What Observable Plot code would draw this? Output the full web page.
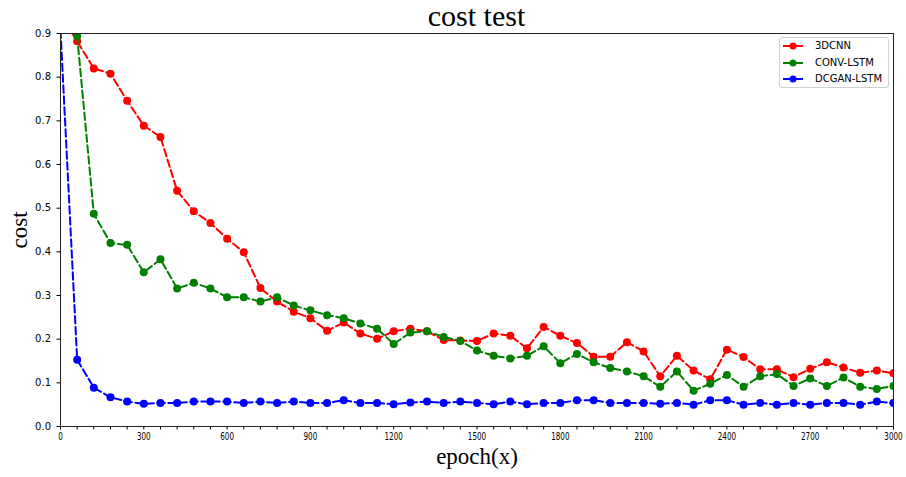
<!DOCTYPE html>
<html>
<head>
<meta charset="utf-8">
<script src="https://cdn.jsdelivr.net/npm/d3@7"></script>
<script src="https://cdn.jsdelivr.net/npm/@observablehq/plot@0.6"></script>
<style>
  html, body { margin: 0; padding: 0; background: #fff; }
  #wrap { position: relative; width: 906px; height: 477px; overflow: hidden; }
  #title { position: absolute; left: 60px; width: 833px; top: 0; height: 28px; text-align: center;
           font-family: "Liberation Serif", serif; font-size: 30px; line-height: 32px; color: #000; }
  #chart { position: absolute; left: 0; top: 28px; }
  #chart svg g[aria-label="x-axis label"] text,
  #chart svg g[aria-label="y-axis label"] text { font-family: "Liberation Serif", serif; font-size: 23px; fill: #000; }
  #legend { position: absolute; left: 779px; top: 37px; width: 110px; height: 51px; box-sizing: border-box;
            border: 1px solid #d0d0d0; border-radius: 3px; background: rgba(255,255,255,0.85);
            font-family: "DejaVu Sans", sans-serif; font-size: 10px; color: #000; }
  .row { position: absolute; left: 0; height: 14px; width: 108px; }
  .row svg { position: absolute; left: 2px; top: 0; }
  .row span { position: absolute; left: 35px; top: 0; line-height: 14px; white-space: nowrap; }
</style>
</head>
<body>
<div id="wrap">
  <div id="title">cost test</div>
  <div id="chart"></div>
  <div id="legend"></div>
</div>
<script>
const epochs = [0,60,120,180,240,300,360,420,480,540,600,660,720,780,840,900,960,1020,1080,1140,1200,1260,1320,1380,1440,1500,1560,1620,1680,1740,1800,1860,1920,1980,2040,2100,2160,2220,2280,2340,2400,2460,2520,2580,2640,2700,2760,2820,2880,2940,3000];

const cost3DCNN = [0.945,0.882,0.820,0.808,0.746,0.689,0.663,0.540,0.493,0.466,0.430,0.399,0.317,0.286,0.263,0.248,0.219,0.238,0.213,0.201,0.218,0.224,0.218,0.198,0.197,0.196,0.213,0.208,0.179,0.228,0.208,0.191,0.160,0.160,0.193,0.172,0.115,0.162,0.128,0.108,0.176,0.159,0.131,0.131,0.113,0.132,0.147,0.135,0.123,0.128,0.122];

const costConvLSTM = [0.960,0.894,0.487,0.420,0.416,0.353,0.383,0.316,0.329,0.316,0.296,0.296,0.286,0.296,0.277,0.266,0.255,0.248,0.236,0.224,0.189,0.215,0.218,0.205,0.196,0.174,0.162,0.156,0.162,0.184,0.145,0.166,0.147,0.134,0.126,0.115,0.091,0.126,0.082,0.098,0.118,0.091,0.115,0.120,0.093,0.110,0.093,0.112,0.091,0.086,0.093];

const costDcganLSTM = [0.907,0.153,0.089,0.067,0.057,0.052,0.054,0.054,0.057,0.057,0.057,0.054,0.057,0.054,0.057,0.054,0.054,0.060,0.054,0.054,0.051,0.055,0.057,0.054,0.057,0.054,0.051,0.057,0.051,0.054,0.054,0.060,0.060,0.054,0.054,0.054,0.052,0.054,0.050,0.060,0.060,0.050,0.054,0.050,0.054,0.050,0.054,0.054,0.050,0.057,0.054];

const seriesNames = ["3DCNN", "CONV-LSTM", "DCGAN-LSTM"];
const seriesColors = ["#ff0000", "#008000", "#0000ff"];
const xTicks = epochs;
const xTickLabels = [0,300,600,900,1200,1500,1800,2100,2400,2700,3000];
const yTicks = [0,0.1,0.2,0.3,0.4,0.5,0.6,0.7,0.8,0.9];

const seriesValues = [cost3DCNN, costConvLSTM, costDcganLSTM];
const data = seriesValues.map((vals, i) => epochs.map((e, j) => ({epoch: e, cost: vals[j], series: seriesNames[i]})));

const marks = [];
data.forEach((rows, i) => {
  marks.push(Plot.line(rows, {x: "epoch", y: "cost", stroke: seriesColors[i], strokeWidth: 2, strokeDasharray: "7.5,3.5", clip: true}));
  marks.push(Plot.dot(rows, {x: "epoch", y: "cost", fill: seriesColors[i], r: 4, clip: true}));
});

const chart = Plot.plot({
  width: 906,
  height: 449,
  marginLeft: 60,
  marginRight: 13,
  marginTop: 5,
  marginBottom: 51,
  style: {fontFamily: "DejaVu Sans, sans-serif", fontSize: "10px", color: "#000", background: "#fff"},
  x: {domain: [0, 3000]},
  y: {domain: [0, 0.9]},
  marks: [
    ...marks,
    Plot.frame({stroke: "#222", strokeWidth: 1}),
    Plot.axisX({ticks: xTicks, tickSize: 3.5, tickPadding: 3,
      tickFormat: d => xTickLabels.includes(d) ? String(d) : "",
      label: "epoch(x)", labelArrow: "none", labelAnchor: "center", labelOffset: 37}),
    Plot.axisY({ticks: yTicks, tickSize: 3.5, tickPadding: 6, tickFormat: d3.format(".1f"),
      label: "cost", labelArrow: "none", labelAnchor: "center", labelOffset: 50})
  ]
});
document.getElementById("chart").appendChild(chart);

// condensed x tick labels, as in the reference
d3.select(chart).selectAll('g[aria-label="x-axis tick label"] text').each(function() {
  const t = this.textContent;
  if (!t) return;
  const w = this.getComputedTextLength();
  this.setAttribute("textLength", (w * 0.72).toFixed(2));
  this.setAttribute("lengthAdjust", "spacingAndGlyphs");
});

// legend
const legend = document.getElementById("legend");
seriesNames.forEach((name, i) => {
  const row = document.createElement("div");
  row.className = "row";
  row.style.top = (1 + i * 16.6) + "px";
  row.innerHTML = `<svg width="24" height="14"><line x1="1" x2="21" y1="7" y2="7" stroke="${seriesColors[i]}" stroke-width="2"/><circle cx="11" cy="7" r="3.5" fill="${seriesColors[i]}"/></svg><span>${name}</span>`;
  legend.appendChild(row);
});
</script>
</body>
</html>
